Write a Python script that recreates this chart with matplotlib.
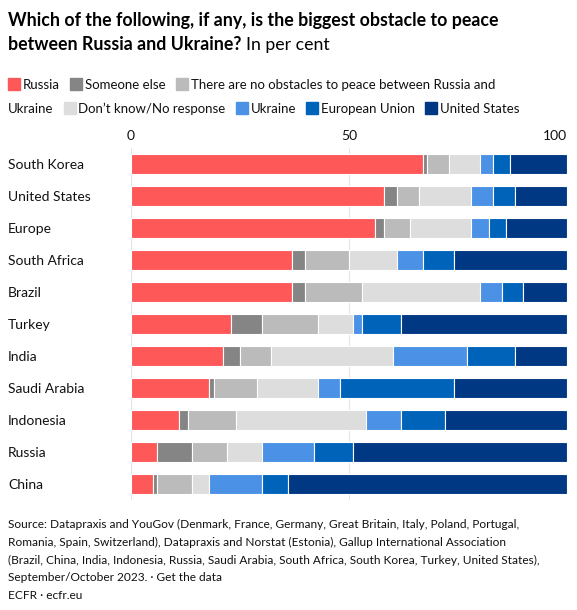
import matplotlib
matplotlib.use("Agg")
import matplotlib.pyplot as plt
from matplotlib.patches import Rectangle

plt.rcParams['font.family'] = ['Lato', 'DejaVu Sans']

countries = ["South Korea", "United States", "Europe", "South Africa", "Brazil", "Turkey",
             "India", "Saudi Arabia", "Indonesia", "Russia", "China"]
answers = ["Russia", "Someone else", "There are no obstacles to peace between Russia and Ukraine",
           "Don\u2019t know/No response", "Ukraine", "European Union", "United States"]

russia = [67, 58, 56, 37, 37, 23, 21, 18, 11, 6, 5]
someone_else = [1, 3, 2, 3, 3, 7, 4, 1, 2, 8, 1]
no_obstacles = [5, 5, 6, 10, 13, 13, 7, 10, 11, 8, 8]
dont_know = [7, 12, 14, 11, 27, 8, 28, 14, 30, 8, 4]
ukraine = [3, 5, 4, 6, 5, 2, 17, 5, 8, 12, 12]
eu = [4, 5, 4, 7, 5, 9, 11, 26, 10, 9, 6]
usa = [13, 12, 14, 26, 10, 38, 12, 26, 28, 49, 64]

series = [russia, someone_else, no_obstacles, dont_know, ukraine, eu, usa]
colors = ["#fe5858", "#858585", "#bbbbbb", "#dddddd", "#4b91e6", "#0063ba", "#003884"]

W, H = 577, 610
fig = plt.figure(figsize=(W / 100, H / 100), dpi=100)
ax = fig.add_axes([131 / W, 1 - 500 / H, 436 / W, 352 / H])

ypos = list(range(len(countries)))
left = [0] * len(countries)
for vals, col in zip(series, colors):
    ax.barh(ypos, vals, left=left, height=0.62, color=col, edgecolor="white",
            linewidth=0.8, zorder=3)
    left = [a + b for a, b in zip(left, vals)]

ax.set_xlim(0, 100)
ax.set_ylim(len(countries) - 0.5, -0.5)
ax.set_xticks([0, 50, 100])
ax.xaxis.tick_top()
ax.tick_params(axis="x", length=0, pad=4, labelsize=10, labelcolor="#111111")
ax.get_xticklabels()[-1].set_ha("right")
ax.set_yticks(ypos)
ax.set_yticklabels(countries, ha="left", fontsize=10, color="#111111")
ax.tick_params(axis="y", length=0, pad=(131 - 8) * 0.72)
ax.grid(axis="x", color="#e4e4e4", linewidth=0.8, zorder=0)
for s in ax.spines.values():
    s.set_visible(False)

# title
fig.text(8 / W, 1 - 26 / H, "Which of the following, if any, is the biggest obstacle to peace",
         fontsize=12.8, fontweight="bold", va="baseline", color="#000000")
t2 = fig.text(8 / W, 1 - 50 / H, "between Russia and Ukraine?", fontsize=12.8,
              fontweight="bold", va="baseline", color="#000000")
fig.canvas.draw()
r = fig.canvas.get_renderer()
bb = t2.get_window_extent(r)
fig.text(bb.x1 / W + 5 / W, 1 - 50 / H, "In per cent", fontsize=12.8, va="baseline",
         color="#000000")

# legend laid out as flowing text, wrapping like the original
rows = [[(0, "Russia"), (1, "Someone else"), (2, "There are no obstacles to peace between Russia and")],
        [(None, "Ukraine"), (3, answers[3]), (4, "Ukraine"), (5, "European Union"), (6, "United States")]]
row_y = [89, 113]
sq = 12
for row, yb in zip(rows, row_y):
    x = 8
    for idx, label in row:
        if idx is not None:
            fig.patches.append(Rectangle((x / W, 1 - (yb + 1) / H), sq / W, sq / H,
                                         transform=fig.transFigure, color=colors[idx]))
            x += sq + 3
        t = fig.text(x / W, 1 - yb / H, label, fontsize=9.5, va="baseline", color="#111111")
        x = t.get_window_extent(r).x1 + 10

source = ("Source: Datapraxis and YouGov (Denmark, France, Germany, Great Britain, Italy, Poland, Portugal,\n"
          "Romania, Spain, Switzerland), Datapraxis and Norstat (Estonia), Gallup International Association\n"
          "(Brazil, China, India, Indonesia, Russia, Saudi Arabia, South Africa, South Korea, Turkey, United States),\n"
          "September/October 2023. \u00b7 Get the data\n"
          "ECFR \u00b7 ecfr.eu")
fig.text(8 / W, 1 - 519 / H, source, fontsize=8.6, va="top", linespacing=1.75, color="#111111")

fig.savefig("out.png", dpi=100)
